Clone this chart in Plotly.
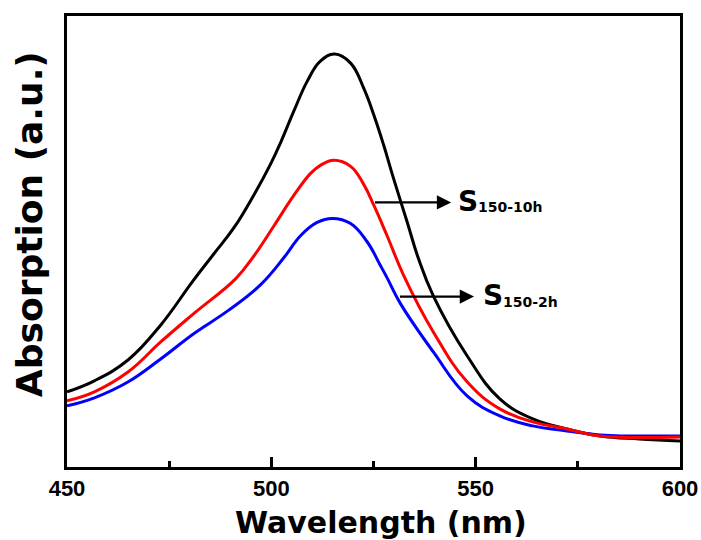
import plotly.graph_objects as go

# Wavelength (nm) sample points and absorption values (a.u.)
wl_10h = [450, 456.7, 465, 473, 480.7, 486.0, 490.9, 495.8, 499.9, 502.3, 505.5, 508.8, 512.0,
          515.5, 519.4, 522.6, 525.1, 527.5, 529.9, 533.2, 536.0, 539.6, 547.9, 555.9, 564,
          572.3, 580.4, 590, 600]
abs_10h = [0.75, 0.86, 1.07, 1.42, 1.85, 2.13, 2.39, 2.72, 3.03, 3.24, 3.55, 3.85, 4.05,
           4.12, 4.03, 3.78, 3.51, 3.21, 2.88, 2.45, 2.08, 1.71, 1.11, 0.68, 0.48,
           0.38, 0.31, 0.28, 0.26]

wl_red = [450, 456.7, 465, 473, 481, 491.3, 495.8, 500.7, 505.5, 509.6, 512.0, 515.3, 519.4,
          522.6, 525.1, 528.3, 532.4, 539.6, 547.9, 555.9, 564, 572.3, 580.4, 600]
abs_red = [0.66, 0.75, 0.95, 1.25, 1.53, 1.88, 2.11, 2.41, 2.71, 2.93, 3.01, 3.06, 3.00,
           2.82, 2.61, 2.31, 1.91, 1.35, 0.85, 0.58, 0.45, 0.38, 0.31, 0.30]

wl_2h = [450, 456.7, 465, 473, 481, 489.4, 497.4, 503.1, 507.2, 511.2, 514.9, 519.4, 523.4,
         526.7, 528.3, 531.6, 539.6, 547.9, 555.9, 564, 572.3, 580.4, 600]
abs_2h = [0.61, 0.69, 0.85, 1.08, 1.33, 1.56, 1.82, 2.09, 2.31, 2.44, 2.48, 2.43, 2.25,
          2.01, 1.89, 1.63, 1.15, 0.71, 0.51, 0.41, 0.36, 0.32, 0.31]

x_ticks = [450, 500, 550, 600]
x_title = "Wavelength (nm)"
y_title = "Absorption (a.u.)"
label_10h = ("S", "150-10h")
label_2h = ("S", "150-2h")

TITLE_FONT = "DejaVu Sans"
TICK_FONT = "Liberation Sans, Arial"

fig = go.Figure()
fig.add_trace(go.Scatter(x=wl_10h, y=abs_10h, mode="lines",
                         line=dict(color="#000000", width=3, shape="spline", smoothing=1.2)))
fig.add_trace(go.Scatter(x=wl_2h, y=abs_2h, mode="lines",
                         line=dict(color="#0000FF", width=3, shape="spline", smoothing=1.2)))
fig.add_trace(go.Scatter(x=wl_red, y=abs_red, mode="lines",
                         line=dict(color="#FF0000", width=3, shape="spline", smoothing=1.2)))

annotations = []
# arrows
for (x0, x1, yv) in [(525.0, 544.0, 2.64), (531.1, 549.6, 1.70)]:
    annotations.append(dict(x=x1, y=yv, ax=x0, ay=yv, xref="x", yref="y", axref="x", ayref="y",
                            text="", showarrow=True, arrowhead=2, arrowsize=1.3, arrowwidth=2.2,
                            arrowcolor="#000000", standoff=0, startstandoff=0))
# labels
for (xs, yv, lab) in [(545.0, 2.64, label_10h), (551.0, 1.70, label_2h)]:
    annotations.append(dict(x=xs, y=yv, xref="x", yref="y", text=lab[0], showarrow=False,
                            xanchor="left", yanchor="middle", xshift=1, yshift=1,
                            font=dict(family=TITLE_FONT, size=28, color="#000000", weight="bold")))
    annotations.append(dict(x=xs, y=yv, xref="x", yref="y", text=lab[1], showarrow=False,
                            xanchor="left", yanchor="middle", xshift=21, yshift=-5,
                            font=dict(family=TITLE_FONT, size=14, color="#000000", weight="bold")))
# axis titles
annotations.append(dict(x=0.513, y=-0.123, xref="paper", yref="paper", text=x_title, showarrow=False,
                        xanchor="center", yanchor="middle",
                        font=dict(family=TITLE_FONT, size=30, color="#000000", weight="bold")))
annotations.append(dict(x=-0.060, y=0.539, xref="paper", yref="paper", text=y_title, showarrow=False,
                        textangle=-90, xanchor="center", yanchor="middle",
                        font=dict(family=TITLE_FONT, size=36, color="#000000", weight="bold")))

fig.update_layout(
    width=701, height=540,
    autosize=False,
    margin=dict(l=67, r=21, t=16, b=73, autoexpand=False),
    paper_bgcolor="white", plot_bgcolor="white",
    showlegend=False,
    annotations=annotations,
    xaxis=dict(range=[450, 600], tickvals=x_ticks, ticktext=[str(v) for v in x_ticks],
               automargin=False,
               ticks="inside", ticklen=10, tickwidth=2.5, tickcolor="#000000",
               minor=dict(dtick=25, tick0=450, ticks="inside", ticklen=6, tickwidth=2.5,
                          tickcolor="#000000", showgrid=False),
               showline=True, linewidth=3, linecolor="#000000", mirror=True,
               showgrid=False, zeroline=False,
               tickfont=dict(family=TICK_FONT, size=22, color="#000000", weight="bold")),
    yaxis=dict(range=[0, 4.5], showticklabels=False, ticks="", automargin=False,
               showline=True, linewidth=3, linecolor="#000000", mirror=True,
               showgrid=False, zeroline=False),
)

fig.write_html("out.html", config={"displayModeBar": False, "responsive": False},
               post_script="document.body.style.margin='0';document.body.style.overflow='hidden';")
